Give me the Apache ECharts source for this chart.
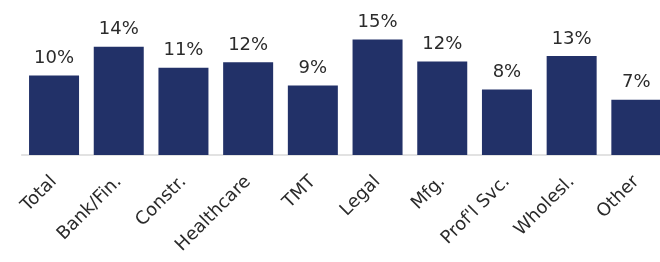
<!DOCTYPE html>
<html>
<head>
<meta charset="utf-8">
<script src="https://cdn.jsdelivr.net/npm/echarts@6/dist/echarts.min.js"></script>
<style>
html,body{margin:0;padding:0;background:#fff;}
#chart{width:660px;height:262px;}
</style>
</head>
<body>
<div id="chart"></div>
<script>
const categories = ["Total", "Bank/Fin.", "Constr.", "Healthcare", "TMT", "Legal", "Mfg.", "Prof'l Svc.", "Wholesl.", "Other"];
const values = [10.2, 13.9, 11.2, 11.9, 8.9, 14.8, 12.0, 8.4, 12.7, 7.1];

const chart = echarts.init(document.getElementById('chart'), null, {renderer: 'canvas'});
chart.setOption({
  animation: false,
  grid: {left: 21.7, top: 10, width: 647, bottom: 107, outerBoundsMode: 'none', containLabel: false},
  xAxis: {
    type: 'category',
    data: categories,
    axisLine: {lineStyle: {color: '#d9d9d9', width: 1.5}},
    axisTick: {show: false},
    axisLabel: {
      rotate: 45,
      interval: 0,
      margin: 24,
      fontFamily: 'DejaVu Sans',
      fontSize: 18,
      color: '#2b2b2b'
    }
  },
  yAxis: {
    type: 'value',
    min: 0,
    max: 18.6,
    show: false,
    splitLine: {show: false}
  },
  series: [{
    type: 'bar',
    data: values,
    barWidth: 50,
    itemStyle: {color: '#223168'},
    label: {
      show: true,
      position: 'top',
      distance: 8,
      fontFamily: 'DejaVu Sans',
      fontSize: 18,
      color: '#2b2b2b',
      formatter: p => Math.round(p.value) + '%'
    }
  }]
});
</script>
</body>
</html>
